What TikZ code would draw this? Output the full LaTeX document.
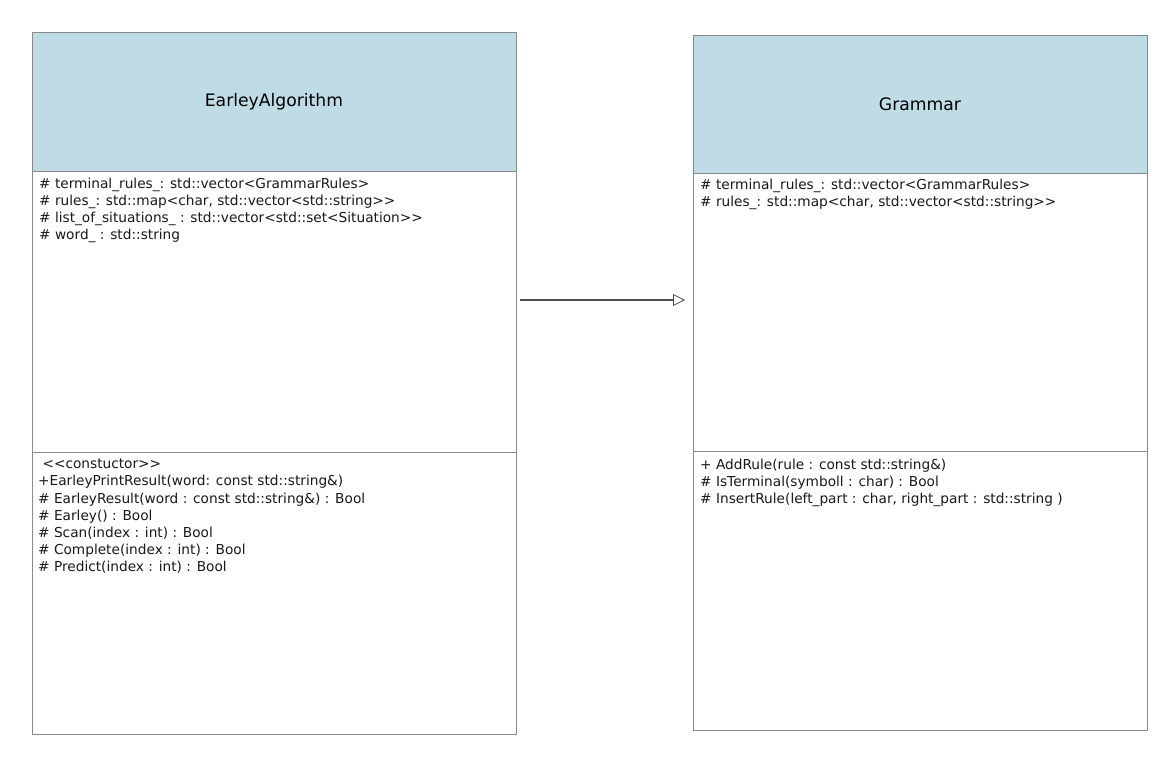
\documentclass[tikz,border=0pt]{standalone}
\usepackage{fontspec}
\setmainfont{DejaVu Sans}
\usetikzlibrary{arrows.meta}
\definecolor{hdr}{HTML}{BEDBE6}
\definecolor{bord}{HTML}{8A8A8A}
\begin{document}
\begin{tikzpicture}[x=1pt,y=-1pt,
  box/.style={draw=bord,line width=1pt},
  hbox/.style={draw=bord,fill=hdr,line width=1pt},
  title/.style={font=\fontsize{17.2}{20}\selectfont},
  txt/.style={anchor=north west,align=left,inner sep=0pt,font=\fontsize{13.7}{17.1}\selectfont,text=black!90}]
\useasboundingbox (0,0) rectangle (1168,758);
% left class
\draw[hbox] (32,32) rectangle (516,171);
\draw[box] (32,171) rectangle (516,452);
\draw[box] (32,452) rectangle (516,734);
\node[title] (lt) at (274,102) {EarleyAlgorithm};
\node[txt] (la) at (39,178) {\# terminal\_rules\_: std::vector<GrammarRules>\\
\# rules\_: std::map<char, std::vector<std::string>{}>\\
\# list\_of\_situations\_ : std::vector<std::set<Situation>{}>\\
\# word\_ : std::string};
\node[txt] (lm) at (38,459) {\ <{}<constuctor>{}>\\
+EarleyPrintResult(word: const std::string\&)\\
\# EarleyResult(word : const std::string\&) : Bool\\
\# Earley() : Bool\\
\# Scan(index : int) : Bool\\
\# Complete(index : int) : Bool\\
\# Predict(index : int) : Bool};
% right class
\draw[hbox] (693,35) rectangle (1147,173);
\draw[box] (693,173) rectangle (1147,451);
\draw[box] (693,451) rectangle (1147,730);
\node[title] (rt) at (920,104) {Grammar};
\node[txt] (ra) at (700,179) {\# terminal\_rules\_: std::vector<GrammarRules>\\
\# rules\_: std::map<char, std::vector<std::string>{}>};
\node[txt] (rm) at (700,459) {+ AddRule(rule : const std::string\&)\\
\# IsTerminal(symboll : char) : Bool\\
\# InsertRule(left\_part : char, right\_part : std::string )};
% arrow
\coordinate (a1) at (520,300);
\coordinate (a2) at (685,300);
\draw[draw=black!70,line width=1.2pt,-{Triangle[open,length=12pt,width=12pt,line width=0.8pt,fill=white]}] (a1) -- (a2);
\end{tikzpicture}
\end{document}
